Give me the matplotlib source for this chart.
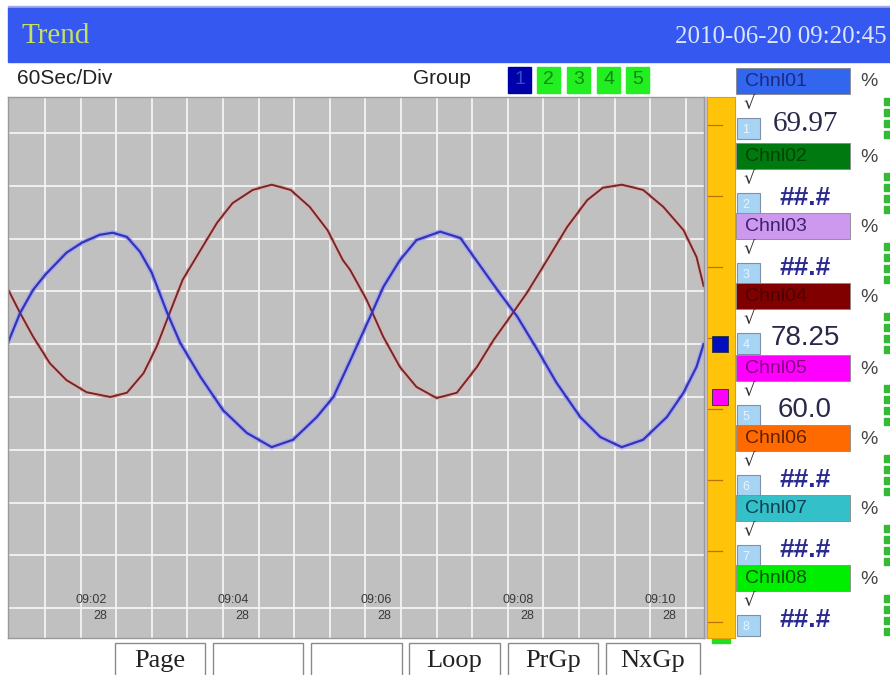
import matplotlib
matplotlib.use("Agg")
import matplotlib.pyplot as plt
from matplotlib.patches import Rectangle
from matplotlib.transforms import blended_transform_factory

# values: time in s after 09:00:00, value in %
ch01_t = [57, 67, 78, 88, 106, 119, 134, 145, 157, 168, 178, 191, 202, 219, 238, 258, 279, 297, 317, 331,
          345, 362, 373, 387, 401, 421, 438, 457, 471, 486, 503, 519, 539, 556, 574, 592, 612, 626, 637, 643]
ch01_v = [70.4, 75.9, 80.3, 83.1, 87.3, 89.2, 90.7, 91.1, 90.3, 87.5, 83.5, 75.9, 70.2, 63.8, 57.5, 53.2, 50.5, 51.9, 56.2, 60.0,
          66.8, 75.2, 80.8, 85.9, 89.7, 91.3, 90.1, 84.1, 79.7, 75.2, 68.9, 62.7, 56.2, 52.4, 50.5, 51.9, 56.2, 60.8, 65.7, 70.0]
ch04_t = [57, 67, 78, 92, 106, 123, 143, 157, 171, 182, 193, 204, 219, 233, 246, 263, 279, 295, 311, 326,
          339, 345, 359, 373, 387, 401, 418, 435, 452, 466, 480, 494, 511, 528, 545, 558, 574, 592, 609, 626, 637, 643]
ch04_v = [80.3, 75.9, 71.4, 66.4, 63.2, 60.9, 60.0, 60.8, 64.5, 69.5, 75.9, 82.2, 87.8, 93.0, 96.7, 99.2, 100.2, 99.2, 96.0, 91.6,
          85.9, 84.1, 78.4, 71.4, 65.7, 61.9, 59.8, 60.8, 65.7, 70.8, 75.2, 79.7, 85.9, 92.2, 97.3, 99.6, 100.2, 99.2, 96.0, 91.6, 86.5, 81.0]

time_ticks = [148, 268, 388, 508, 628]
time_labels = ["09:02", "09:04", "09:06", "09:08", "09:10"]
time_secs = ["28", "28", "28", "28", "28"]

names = ["Chnl01", "Chnl02", "Chnl03", "Chnl04", "Chnl05", "Chnl06", "Chnl07", "Chnl08"]
readings = ["69.97", "##.#", "##.#", "78.25", "60.0", "##.#", "##.#", "##.#"]
box_colors = ["#3366ee", "#007a10", "#cc99ee", "#800000", "#ff00ff", "#ff6a00", "#33c0c8", "#00ee00"]
name_colors = ["#1a2a80", "#004400", "#402070", "#4a0000", "#800080", "#602000", "#104050", "#005500"]
marker_values = [69.97, 60.0]
marker_colors = ["#0010c0", "#ff00ff"]

groups = ["1", "2", "3", "4", "5"]
buttons = ["Page", "", "", "Loop", "PrGp", "NxGp"]

SERIF = ["Liberation Serif", "DejaVu Serif"]
SANS = ["Liberation Sans", "DejaVu Sans"]

W, H = 890, 675
fig = plt.figure(figsize=(W / 100, H / 100), dpi=100)
fig.patch.set_facecolor("white")


def px_axes(x0, y0, x1, y1):
    return fig.add_axes([x0 / W, 1 - y1 / H, (x1 - x0) / W, (y1 - y0) / H])


ui = fig.add_axes([0, 0, 1, 1])
ui.set_xlim(0, W)
ui.set_ylim(H, 0)
ui.axis("off")

# title bar
ui.add_patch(Rectangle((8, 6), 882, 2, color="#a8a8e8"))
ui.add_patch(Rectangle((8, 8), 882, 54, color="#3458f0"))
ui.text(22, 36, "Trend", family=SERIF, fontsize=21, color="#c8e060", va="center")
ui.text(887, 37, "2010-06-20 09:20:45", family=SERIF, fontsize=18, color="#dce4ff",
        va="center", ha="right")

ui.text(17, 78, "60Sec/Div", family=SANS, fontsize=15, color="#222222", va="center")
ui.text(413, 78, "Group", family=SANS, fontsize=15, color="#222222", va="center")
gx = [508, 537, 567, 597, 626]
for i, g in enumerate(groups):
    fc = "#0000aa" if i == 0 else "#22ee22"
    tc = "#3050c0" if i == 0 else "#108810"
    ui.add_patch(Rectangle((gx[i], 67), 23, 26, color=fc))
    ui.text(gx[i] + 11.5, 80, g, family=SANS, fontsize=14, color=tc, ha="center", va="center")

# trend area
ax = px_axes(8, 97, 704, 638)
ax.set_facecolor("#c0c0c0")
ax.set_xlim(56.8, 643.3)
ax.set_ylim(14.36, 116.8)
ax.set_xticks([88 + 30 * k for k in range(19)])
ax.set_yticks(range(20, 111, 10))
ax.tick_params(length=0, labelbottom=False, labelleft=False)
ax.grid(True, color="#f4f4f4", lw=1.3)
for s in ax.spines.values():
    s.set_color("#9a9a9a")
    s.set_linewidth(1)
ax.plot(ch04_t, ch04_v, color="#e0b0b0", lw=3.2, solid_capstyle="round", solid_joinstyle="round")
ax.plot(ch01_t, ch01_v, color="#a8a8f0", lw=3.6, solid_capstyle="round", solid_joinstyle="round")
ax.plot(ch04_t, ch04_v, color="#6e2a2a", lw=1.4, solid_joinstyle="round")
ax.plot(ch01_t, ch01_v, color="#3434b0", lw=1.6, solid_joinstyle="round")
for t, lab, sec in zip(time_ticks, time_labels, time_secs):
    ax.text(t - 8, 20, lab + "\n" + sec, family=SANS, fontsize=9, color="#3a3a3a",
            ha="right", va="center", multialignment="right", linespacing=1.45)

ui.add_patch(Rectangle((704, 97), 3, 541, color="#c8c0dc"))

# bar graph strip
yb = px_axes(707, 97, 735, 638)
yb.set_facecolor("#ffc40a")
yb.set_xlim(0, 1)
yb.set_ylim(14.36, 116.8)
yb.set_xticks([])
yb.set_yticks([])
for s in yb.spines.values():
    s.set_color("#e0a000")
tick_tr = blended_transform_factory(yb.transAxes, ui.transData)
for yy in [125, 196, 267, 338, 409, 480, 551, 622]:
    yb.plot([0, 0.55], [yy, yy], color="#b87400", lw=0.9, transform=tick_tr)
for v, c in zip(marker_values, marker_colors):
    yb.plot(0.45, v, marker="s", ms=12, color=c, mec="#303030", mew=0.6, zorder=5)
ui.add_patch(Rectangle((712, 636), 18, 7, color="#22dd22"))

# channel panel
row_top = [68, 143, 213, 283, 355, 425, 495, 565]
for i in range(8):
    T = row_top[i]
    ui.add_patch(Rectangle((736, T), 114, 26, facecolor=box_colors[i], edgecolor="#888888", lw=0.6))
    ui.text(745, T + 13.5, names[i], family=SANS, fontsize=14, color=name_colors[i], va="center")
    ui.text(869, T + 14, "%", family=SANS, fontsize=14, color="#444444", va="center", ha="center")
    ui.text(749, T + 36, "\u221a", family=["DejaVu Sans"], fontsize=13, color="#333333",
            va="center", ha="center")
    ui.add_patch(Rectangle((737, T + 50), 23, 21, facecolor="#a8d4f4", edgecolor="#8090a8", lw=0.8))
    ui.text(746, T + 62, str(i + 1), family=SANS, fontsize=9, color="#e8f4ff", va="center", ha="center")
    txt = readings[i]
    if txt == "##.#":
        ui.text(805, T + 55, txt, family=SANS, fontsize=19, fontweight="bold", color="#2a2a90",
                ha="center", va="center")
    elif i == 0:
        ui.text(805, T + 56, txt, family=SERIF, fontsize=21, color="#28284a", ha="center", va="center")
    else:
        ui.text(805, T + 55, txt, family=SANS, fontsize=20, color="#28284a", ha="center", va="center")
    for k in range(4):
        ui.add_patch(Rectangle((884, T + 30 + k * 11), 6, 7, color="#33bb33"))

# soft keys
bx = [115, 213, 311, 409, 508, 606]
bw = [90, 90, 91, 91, 90, 94]
for x, w, lab in zip(bx, bw, buttons):
    ui.add_patch(Rectangle((x, 643), w, 40, facecolor="white", edgecolor="#8a8a8a", lw=1))
    ui.text(x + w / 2, 661, lab, family=SERIF, fontsize=19, color="#222222", ha="center", va="center")

fig.savefig("out.png", dpi=100)
